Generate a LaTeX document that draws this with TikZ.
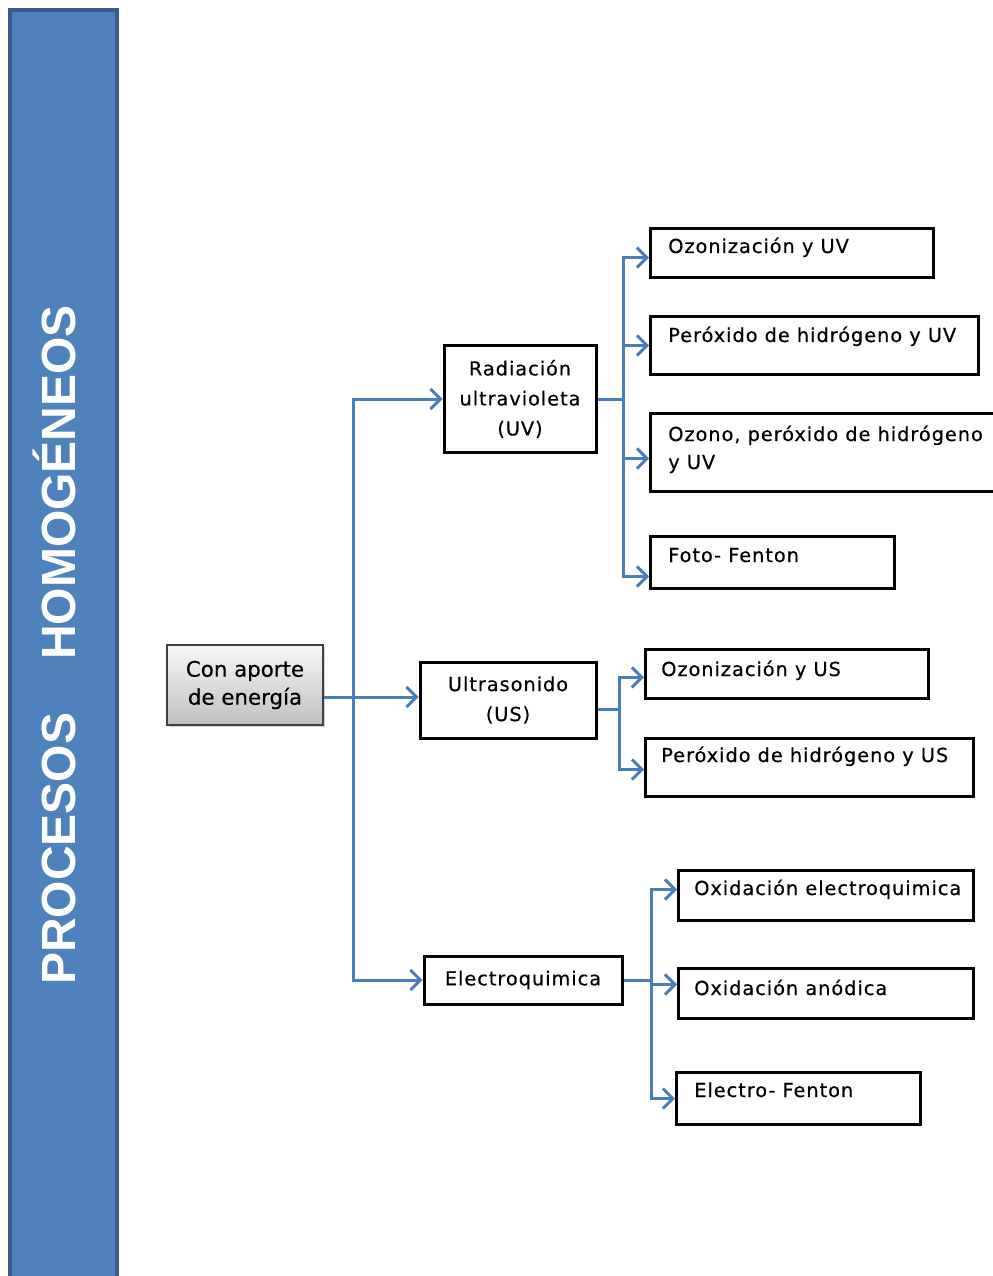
\documentclass[tikz,border=0pt]{standalone}
\usepackage{fontspec}
\setmainfont{DejaVu Sans}
\newfontfamily\boxfont[LetterSpace=5,FakeBold=0.4]{DejaVu Sans}
\newfontfamily\conffont[FakeBold=0.3]{DejaVu Sans}
\newfontfamily\barfont{Liberation Sans}
\usetikzlibrary{arrows.meta,shadows,calc}
\definecolor{barblue}{HTML}{4F81BD}
\definecolor{baredge}{HTML}{385D8A}
\definecolor{linkblue}{HTML}{4A7EBB}
\begin{document}
\begin{tikzpicture}[x=0.75pt,y=-0.75pt,
  pbox/.style={draw=black, line width=2.25pt, fill=white, inner sep=0pt,
    font=\boxfont\fontsize{14.5}{22.5}\selectfont, align=center},
  cbox/.style={draw=black, line width=2.25pt, fill=white, inner sep=0pt, anchor=north west},
  ptext/.style={inner sep=0pt, anchor=base west, align=left,
    font=\boxfont\fontsize{14.5}{21}\selectfont},
  link/.style={draw=linkblue, line width=2.25pt},
  arr/.style={link, -{Straight Barb[length=7.5pt,width=15pt]}},
  graybox/.style={draw=black!75, line width=1.8pt, top color=black!3, bottom color=black!25,
    drop shadow={shadow xshift=1.5pt, shadow yshift=-1.5pt, opacity=0.35},
    inner sep=0pt, align=center, font=\conffont\fontsize{16}{21}\selectfont}
]
\useasboundingbox (0,0) rectangle (992,1276);

% left bar
\fill[barblue, draw=baredge, line width=2.6pt] (10,10) rectangle (117,1300);
\node[rotate=90, anchor=base, text=white, inner sep=0pt,
  font=\barfont\bfseries\fontsize{36}{40}\selectfont] (title) at (75,645)
  {PROCESOS\hspace{1.1em}HOMOG\'ENEOS};

% root and middle level
\node[graybox, minimum width=117pt, minimum height=60pt] (con) at (245,685)
  {Con aporte\\de energía};
\node[pbox, minimum width=114pt, minimum height=79.5pt] (uv) at (520,399)
  {Radiación\\ultravioleta\\(UV)};
\node[pbox, minimum width=132pt, minimum height=57pt] (us) at (508,700)
  {Ultrasonido\\(US)};
\node[pbox, minimum width=148.5pt, minimum height=36pt] (ec) at (523,980)
  {Electroquimica};

% UV children
\node[cbox, minimum width=212.25pt, minimum height=36.75pt] (b1) at (649,227) {};
\node[ptext] (t1) at (668,253) {Ozonización y UV};
\node[cbox, minimum width=246pt, minimum height=43.5pt] (b2) at (649,315) {};
\node[ptext] (t2) at (668,342) {Peróxido de hidrógeno y UV};
\node[cbox, minimum width=263.25pt, minimum height=58.5pt] (b3) at (649,412) {};
\node[ptext] (t3) at (668,469) {Ozono, peróxido de hidrógeno\\y UV};
\node[cbox, minimum width=183pt, minimum height=39pt] (b4) at (649,535) {};
\node[ptext] (t4) at (668,562) {Foto- Fenton};

% US children
\node[cbox, minimum width=212.25pt, minimum height=36.75pt] (b5) at (644,648) {};
\node[ptext] (t5) at (661,676) {Ozonización y US};
\node[cbox, minimum width=246pt, minimum height=43.5pt] (b6) at (644,737) {};
\node[ptext] (t6) at (661,762) {Peróxido de hidrógeno y US};

% Electro children
\node[cbox, minimum width=221.25pt, minimum height=37.5pt] (b7) at (677,869) {};
\node[ptext] (t7) at (694,895) {Oxidación electroquimica};
\node[cbox, minimum width=221.25pt, minimum height=37.5pt] (b8) at (677,967) {};
\node[ptext] (t8) at (694,995) {Oxidación anódica};
\node[cbox, minimum width=183pt, minimum height=39pt] (b9) at (675,1071) {};
\node[ptext] (t9) at (694,1097) {Electro- Fenton};

% connectors: root to middle
\coordinate (cs) at ([yshift=-9pt]con.east);
\coordinate (tr) at ($(cs)+(29,0)$);
\draw[arr] (cs) -- (cs -| us.west);
\draw[arr] (tr) |- (uv.west);
\draw[arr] (tr) |- (ec.west);

% UV bus
\coordinate (uvb) at ($(uv.east)+(26,0)$);
\draw[link] (uv.east) -- (uvb);
\draw[arr] (uvb) |- ([yshift=-3.4pt]b1.west);
\draw[arr] (uvb) |- (b2.west);
\draw[arr] (uvb) |- ([yshift=-4.5pt]b3.west);
\draw[arr] (uvb) |- ([yshift=-10.5pt]b4.west);

% US bus
\coordinate (usb) at ($(us.east)+(22,9)$);
\draw[link] ($(us.east)+(0,9)$) -- (usb);
\draw[arr] (usb) |- ([yshift=-2.6pt]b5.west);
\draw[arr] (usb) |- ([yshift=-1.5pt]b6.west);

% Electro bus
\coordinate (ecb) at ($(ec.east)+(28,0)$);
\draw[link] (ec.east) -- (ecb);
\draw[arr] (ecb) |- ([yshift=4.5pt]b7.west);
\draw[arr] (ecb) |- ([yshift=6.75pt]b8.west);
\draw[arr] (ecb) |- (b9.west);
\end{tikzpicture}
\end{document}
